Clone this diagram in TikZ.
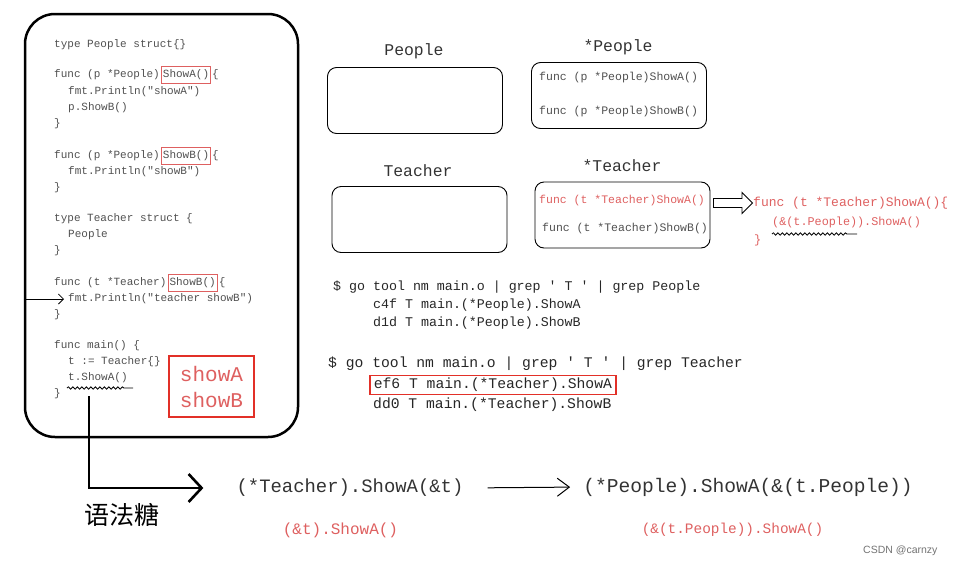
\documentclass[tikz,border=0pt]{standalone}
\usepackage{fontspec}
\newfontfamily\codefont{Liberation Mono}
\newfontfamily\cjkfont{Noto Sans CJK SC}
\newfontfamily\markfont{Liberation Sans}
\usetikzlibrary{positioning,arrows.meta,shapes.arrows,decorations.pathmorphing}
\definecolor{codegray}{RGB}{80,80,80}
\definecolor{hlred}{RGB}{222,96,96}
\definecolor{boxred}{RGB}{226,48,40}
\tikzset{
	code/.style={anchor=west, inner sep=0pt, text=codegray,
		font=\codefont\fontsize{11}{13}\selectfont},
	boxcode/.style={anchor=west, inner sep=0pt, text=codegray,
		font=\codefont\fontsize{11.5}{13}\selectfont},
	term/.style={anchor=west, inner sep=0pt, text=black!85,
		font=\codefont\fontsize{13.3}{15}\selectfont},
	termbig/.style={anchor=west, inner sep=0pt, text=black!85,
		font=\codefont\fontsize{14.7}{16}\selectfont},
	title/.style={inner sep=0pt, text=black!80,
		font=\codefont\fontsize{16.4}{18}\selectfont},
	redframe/.style={draw=hlred, line width=0.8pt, inner xsep=1.5pt, inner ysep=3pt},
	typebox/.style={draw, line width=0.9pt, rounded corners=9pt,
		minimum width=175pt, minimum height=66pt},
	bigframe/.style={draw, line width=2.5pt, rounded corners=30pt},
	wavy/.style={decorate, line width=0.8pt,
		decoration={snake, amplitude=1.2pt, segment length=4.5pt, post length=8pt}},
	thinarrow/.style={line width=0.8pt, -{Straight Barb[length=5pt,width=10pt]}},
	bigarrow/.style={line width=2.6pt, -{Straight Barb[length=13pt,width=28pt]}}
}
\begin{document}
\begin{tikzpicture}[x=1pt,y=-1pt]
	\useasboundingbox (0,0) rectangle (956,568);
	% Quelltext links
	\node (codebox) [bigframe, minimum width=273pt, minimum height=423pt] at (161.5,225.5) {};
	\node (c1) [code] at (54,45) {type People struct\{\}};
	\node (c2) [code] at (54,75) {func (p *People)};
	\node (c2a) [code, redframe, right=1pt of c2] {ShowA()};
	\node (c2b) [code, right=1pt of c2a] {\{};
	\node (c3) [code] at (68,92) {fmt.Println("showA")};
	\node (c4) [code] at (68,108) {p.ShowB()};
	\node (c5) [code] at (54,124) {\}};
	\node (c6) [code] at (54,156) {func (p *People)};
	\node (c6a) [code, redframe, right=1pt of c6] {ShowB()};
	\node (c6b) [code, right=1pt of c6a] {\{};
	\node (c7) [code] at (68,172) {fmt.Println("showB")};
	\node (c8) [code] at (54,188) {\}};
	\node (c9) [code] at (54,219) {type Teacher struct \{};
	\node (c10) [code] at (68,235) {People};
	\node (c11) [code] at (54,251) {\}};
	\node (c12) [code] at (54,283) {func (t *Teacher)};
	\node (c12a) [code, redframe, right=1pt of c12] {ShowB()};
	\node (c12b) [code, right=1pt of c12a] {\{};
	\node (c13) [code] at (68,299) {fmt.Println("teacher showB")};
	\node (c14) [code] at (54,315) {\}};
	\node (c15) [code] at (54,346) {func main() \{};
	\node (c16) [code] at (68,362) {t := Teacher\{\}};
	\node (c17) [code] at (68,378) {t.ShowA()};
	\node (c18) [code] at (54,394) {\}};
	\draw[wavy] (67,388) -- (133,388);
	\draw[thinarrow, shorten >=4pt] (codebox.west |- c13.west) -- (c13.west);

	% Ausgabe
	\node (out) [draw=boxred, line width=2pt, minimum width=85pt, minimum height=61pt,
		align=left, text=hlred, font=\codefont\fontsize{21}{26}\selectfont]
		at (211.5,386.5) {showA\\showB};

	% Typen und Methodenmengen
	\node (tpeople) [title] at (414,51) {People};
	\node (bpeople) [typebox] at (415,100.5) {};
	\node (tppeople) [title] at (618,47) {*People};
	\node (bppeople) [typebox] at (619,95.5) {};
	\node (ppa) [boxcode] at (539,78) {func (p *People)ShowA()};
	\node (ppb) [boxcode] at (539,112) {func (p *People)ShowB()};
	\node (tteacher) [title] at (418,171) {Teacher};
	\node (bteacher) [typebox] at (419.5,219.5) {};
	\node (tpteacher) [title] at (622,166) {*Teacher};
	\node (bpteacher) [typebox] at (622.5,215) {};
	\node (pta) [boxcode, text=hlred] at (539,201) {func (t *Teacher)ShowA()};
	\node (ptb) [boxcode] at (542,229) {func (t *Teacher)ShowB()};

	% Hohlpfeil und Wrapper
	\node (blk) [single arrow, draw, line width=0.9pt, anchor=west, inner xsep=0pt,
		inner ysep=4pt, minimum height=39pt, minimum width=21pt,
		single arrow head extend=6pt] at (713,203) {};
	\node (rf1) [anchor=west, inner sep=0pt, text=hlred,
		font=\codefont\fontsize{13}{15}\selectfont] at (753,203) {func (t *Teacher)ShowA()\{};
	\node (rf2) [anchor=west, inner sep=0pt, text=hlred,
		font=\codefont\fontsize{11.8}{14}\selectfont] at (772,222) {(\&(t.People)).ShowA()};
	\node (rf3) [anchor=west, inner sep=0pt, text=hlred,
		font=\codefont\fontsize{12}{14}\selectfont] at (754,240) {\}};
	\draw[wavy] (772,234) -- (857,234);

	% go tool nm
	\node (n1) [term] at (333,287) {\$ go tool nm main.o | grep \textquotesingle{} T \textquotesingle{} | grep People};
	\node (n2) [term] at (373,305) {c4f T main.(*People).ShowA};
	\node (n3) [term] at (373,323) {d1d T main.(*People).ShowB};
	\node (n4) [termbig] at (328,364) {\$ go tool nm main.o | grep \textquotesingle{} T \textquotesingle{} | grep Teacher};
	\node (n5) [termbig, draw=boxred, line width=1.6pt, inner xsep=4pt, inner ysep=2.5pt]
		at (369,385) {ef6 T main.(*Teacher).ShowA};
	\node (n6) [termbig] at (373,405) {dd0 T main.(*Teacher).ShowB};

	% Syntaxzucker unten
	\node (texpr) [inner sep=0pt, text=black!80, font=\codefont\fontsize{18.9}{21}\selectfont]
		at (350,488) {(*Teacher).ShowA(\&t)};
	\node (tred) [inner sep=0pt, text=hlred, font=\codefont\fontsize{16}{18}\selectfont]
		at (340.5,530) {(\&t).ShowA()};
	\node (pexpr) [inner sep=0pt, text=black!80, font=\codefont\fontsize{19.6}{22}\selectfont]
		at (748,487) {(*People).ShowA(\&(t.People))};
	\node (pred) [inner sep=0pt, text=hlred, font=\codefont\fontsize{14.4}{16}\selectfont]
		at (732.5,530) {(\&(t.People)).ShowA()};
	\node (sugar) [inner sep=0pt, font=\cjkfont\fontsize{25}{28}\selectfont] at (122,515) {语法糖};
	\coordinate (drop) at (89,396);
	\draw[bigarrow, shorten >=33pt] (drop) |- (texpr.west);
	\draw[line width=1pt, -{Straight Barb[length=12pt,width=18pt]}, shorten <=24pt,
		shorten >=13pt] (texpr.east) -- (pexpr.west);

	% Wasserzeichen
	\node (wm) [anchor=west, inner sep=0pt, text=black!55,
		font=\markfont\fontsize{10.5}{12}\selectfont] at (863,551) {CSDN @carnzy};
\end{tikzpicture}
\end{document}
